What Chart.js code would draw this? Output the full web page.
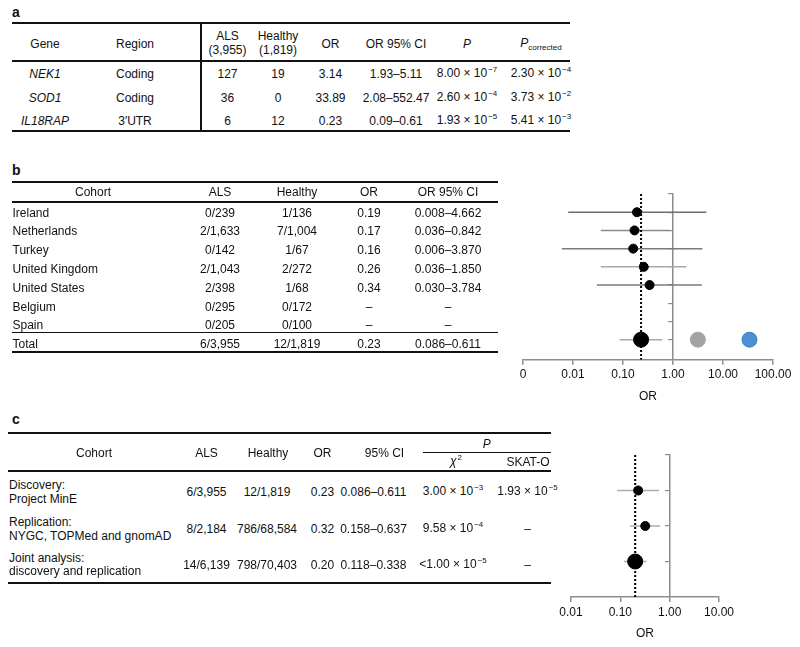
<!DOCTYPE html>
<html>
<head>
<meta charset="utf-8">
<script src="https://cdn.jsdelivr.net/npm/chart.js@4.4.1/dist/chart.umd.min.js"></script>
<style>
  html, body { margin:0; padding:0; background:#fff; }
  #root { position:relative; width:800px; height:647px; overflow:hidden; background:#fff; }
  .t { position:absolute; white-space:nowrap; font:12px "Liberation Sans", Arial, sans-serif; line-height:14px; color:#111; }
  .lbl { font-weight:bold; font-size:14px; }
  .sup { font-size:8px; position:relative; top:-5px; margin-left:1px; }
  .sub { font-size:8px; position:relative; top:3px; }
  .ln { position:absolute; background:#111; }
  canvas { position:absolute; }
</style>
</head>
<body>
<div id="root">
  <canvas id="chartB" width="320" height="228" style="left:480px;top:180px;width:320px;height:228px;"></canvas>
  <canvas id="chartC" width="270" height="207" style="left:530px;top:440px;width:270px;height:207px;"></canvas>
</div>
<script>
// ---------------- DATA ----------------
// Panel a
const genesA = ['NEK1', 'SOD1', 'IL18RAP'];
const regionsA = ['Coding', 'Coding', '3′UTR'];
const alsA = [127, 36, 6];
const healthyA = [19, 0, 12];
const orA = [3.14, 33.89, 0.23];
const ciA = ['1.93–5.11', '2.08–552.47', '0.09–0.61'];
const pA = [[8.00, -7], [2.60, -4], [1.93, -5]];
const pCorrA = [[2.30, -4], [3.73, -2], [5.41, -3]];

// Panel b
const cohortsB = ['Ireland', 'Netherlands', 'Turkey', 'United Kingdom', 'United States', 'Belgium', 'Spain', 'Total'];
const alsB = ['0/239', '2/1,633', '0/142', '2/1,043', '2/398', '0/295', '0/205', '6/3,955'];
const healthyB = ['1/136', '7/1,004', '1/67', '2/272', '1/68', '0/172', '0/100', '12/1,819'];
const orB = [0.19, 0.17, 0.16, 0.26, 0.34, null, null, 0.23];
const ciLowB = [0.008, 0.036, 0.006, 0.036, 0.030, null, null, 0.086];
const ciHighB = [4.662, 0.842, 3.870, 1.850, 3.784, null, null, 0.611];
const xTicksB = [0.001, 0.01, 0.1, 1, 10, 100];

// Panel c
const cohortsC = [['Discovery:', 'Project MinE'], ['Replication:', 'NYGC, TOPMed and gnomAD'], ['Joint analysis:', 'discovery and replication']];
const alsC = ['6/3,955', '8/2,184', '14/6,139'];
const healthyC = ['12/1,819', '786/68,584', '798/70,403'];
const orC = [0.23, 0.32, 0.20];
const ciLowC = [0.086, 0.158, 0.118];
const ciHighC = [0.611, 0.637, 0.338];
const chiC = [[3.00, -3, ''], [9.58, -4, ''], [1.00, -5, '<']];
const skatC = [[1.93, -5, ''], null, null];
const xTicksC = [0.01, 0.1, 1, 10];

// ---------------- HELPERS ----------------
const root = document.getElementById('root');
function txt(html, x, y, align, cls) {
  const d = document.createElement('div');
  d.className = 't' + (cls ? ' ' + cls : '');
  d.innerHTML = html;
  d.style.left = x + 'px';
  d.style.top = y + 'px';
  const a = align || 'center';
  d.style.transform = a === 'center' ? 'translate(-50%,-50%)' : (a === 'left' ? 'translate(0,-50%)' : 'translate(-100%,-50%)');
  root.appendChild(d);
}
function hline(x1, x2, y, w) {
  const d = document.createElement('div');
  d.className = 'ln';
  d.style.left = x1 + 'px'; d.style.width = (x2 - x1) + 'px';
  d.style.top = (y - w / 2) + 'px'; d.style.height = w + 'px';
  root.appendChild(d);
}
function vline(x, y1, y2, w) {
  const d = document.createElement('div');
  d.className = 'ln';
  d.style.left = (x - w / 2) + 'px'; d.style.width = w + 'px';
  d.style.top = y1 + 'px'; d.style.height = (y2 - y1) + 'px';
  root.appendChild(d);
}
function sci(v) {
  if (!v) return '–';
  return (v[2] || '') + v[0].toFixed(2) + ' × 10<span class="sup">−' + (-v[1]) + '</span>';
}
const dash = '–';
const fam = '"Liberation Sans", Arial, sans-serif';

// ---------------- TABLE A ----------------
txt('a', 12, 12, 'left', 'lbl');
hline(12, 570, 23.3, 2);
hline(12, 570, 61, 2);
hline(12, 570, 131, 2);
vline(201, 22.3, 132, 2);
const colA = { gene: 45, region: 135, als: 227.5, healthy: 278, or: 330.5, ci: 396, p: 467, pc: 541 };
txt('Gene', colA.gene, 43.5);
txt('Region', colA.region, 43.5);
txt('ALS', colA.als, 36); txt('(3,955)', colA.als, 50);
txt('Healthy', colA.healthy, 36); txt('(1,819)', colA.healthy, 50);
txt('OR', colA.or, 43.5);
txt('OR 95% CI', colA.ci, 43.5);
txt('<i>P</i>', colA.p, 43.5);
txt('<i>P</i><span class="sub">corrected</span>', colA.pc, 43.5);
const rowYA = [74, 97.5, 121];
genesA.forEach((g, i) => {
  const y = rowYA[i];
  txt('<i>' + g + '</i>', colA.gene, y);
  txt(regionsA[i], colA.region, y);
  txt(String(alsA[i]), colA.als, y);
  txt(String(healthyA[i]), colA.healthy, y);
  txt(orA[i].toFixed(2), colA.or, y);
  txt(ciA[i], colA.ci, y);
  txt(sci(pA[i]), colA.p, y);
  txt(sci(pCorrA[i]), colA.pc, y);
});

// ---------------- TABLE B ----------------
txt('b', 12, 170, 'left', 'lbl');
hline(12, 498, 182.3, 2);
hline(12, 498, 201.7, 2);
hline(12, 498, 332.7, 1.5);
hline(12, 498, 351.7, 2);
const colB = { cohort: 93, als: 220, healthy: 297, or: 369, ci: 448 };
txt('Cohort', colB.cohort, 192.3);
txt('ALS', colB.als, 192.3);
txt('Healthy', colB.healthy, 192.3);
txt('OR', colB.or, 192.3);
txt('OR 95% CI', colB.ci, 192.3);
const rowYB = [212.5, 231.3, 250.1, 268.9, 287.7, 306.5, 325.3, 343.5];
cohortsB.forEach((c, i) => {
  const y = rowYB[i];
  txt(c, 12.5, y, 'left');
  txt(alsB[i], colB.als, y);
  txt(healthyB[i], colB.healthy, y);
  txt(orB[i] == null ? dash : orB[i].toFixed(2), colB.or, y);
  txt(ciLowB[i] == null ? dash : ciLowB[i].toFixed(3) + '–' + ciHighB[i].toFixed(3), colB.ci, y);
});

// ---------------- TABLE C ----------------
txt('c', 12, 419.3, 'left', 'lbl');
hline(8, 551, 433.3, 2);
hline(423, 551, 452.7, 1.2);
hline(8, 551, 471, 2);
hline(8, 551, 583, 2);
const colC = { cohort: 94, als: 206.5, healthy: 267, or: 322.5, ci: 373.5, chi: 453, skat: 527.5 };
txt('Cohort', colC.cohort, 453.3);
txt('ALS', colC.als, 453.3);
txt('Healthy', 268, 453.3);
txt('OR', colC.or, 453.3);
txt('95% CI', 384.5, 453.3);
txt('<i>P</i>', 486.7, 444.3);
txt('<i>χ</i><span class="sup">2</span>', 456, 462);
txt('SKAT-O', 528, 462);
const rowYC = [492, 529, 564.5];
cohortsC.forEach((c, i) => {
  const y = rowYC[i];
  txt(c[0], 9, y - 6.7, 'left');
  txt(c[1], 9, y + 6.7, 'left');
  txt(alsC[i], colC.als, y);
  txt(healthyC[i], colC.healthy, y);
  txt(orC[i].toFixed(2), colC.or, y);
  txt(ciLowC[i].toFixed(3) + '–' + ciHighC[i].toFixed(3), colC.ci, y);
  txt(sci(chiC[i]), colC.chi, y);
  txt(sci(skatC[i]), colC.skat, y);
});

// ---------------- FOREST PLOTS ----------------
const axisGray = '#8c8c8c';
function forest(canvasId, cfg) {
  const datasets = [];
  // points on top
  datasets.push({
    data: cfg.points.map(p => ({ x: p.x, y: p.y })),
    pointRadius: cfg.points.map(p => p.r),
    pointHoverRadius: cfg.points.map(p => p.r),
    pointBackgroundColor: cfg.points.map(p => p.c),
    pointBorderColor: cfg.points.map(p => p.bc || p.c),
    pointBorderWidth: 1,
    showLine: false,
    order: 0
  });
  // dotted reference line
  datasets.push({
    data: [{ x: cfg.ref, y: cfg.yMin }, { x: cfg.ref, y: cfg.yMax }],
    showLine: true, borderColor: '#000', borderWidth: 2, borderDash: [2, 2],
    pointRadius: 0, order: 1
  });
  // CI lines
  cfg.cis.forEach(ci => {
    datasets.push({
      data: [{ x: ci.lo, y: ci.y }, { x: ci.hi, y: ci.y }],
      showLine: true, borderColor: ci.c, borderWidth: 1.5,
      pointRadius: 0, order: 2
    });
  });
  return new Chart(document.getElementById(canvasId), {
    type: 'scatter',
    data: { datasets },
    options: {
      responsive: false, animation: false, devicePixelRatio: 1,
      layout: { padding: cfg.padding },
      plugins: { legend: { display: false }, tooltip: { enabled: false } },
      scales: {
        x: {
          type: 'logarithmic', min: cfg.xTicks[0], max: cfg.xTicks[cfg.xTicks.length - 1], position: 'bottom',
          afterBuildTicks: s => { s.ticks = cfg.xTicks.map(v => ({ value: v })); },
          ticks: {
            autoSkip: false, maxRotation: 0, minRotation: 0, color: '#111', padding: 3,
            font: { family: fam, size: 12 },
            callback: v => (cfg.zeroLabel && v === cfg.xTicks[0]) ? '0' : Number(v).toFixed(2)
          },
          grid: { drawOnChartArea: false, drawTicks: true, tickLength: 5, color: axisGray, lineWidth: 1.5 },
          border: { display: true, color: axisGray, width: 1.5 },
          title: { display: true, text: 'OR', color: '#111', font: { family: fam, size: 12 }, padding: { top: 4, bottom: 4 } }
        },
        y: {
          type: 'linear', min: cfg.yMin, max: cfg.yMax, reverse: true, position: { x: 1 },
          afterBuildTicks: s => { s.ticks = cfg.yTicks.map(v => ({ value: v })); },
          ticks: { display: false },
          grid: { drawOnChartArea: false, drawTicks: true, tickLength: 4, color: axisGray, lineWidth: 1.2 },
          border: { display: true, color: axisGray, width: 1.5 }
        }
      }
    }
  });
}

// Panel b forest
const ciColorsB = ['#6f6f6f', '#8a8a8a', '#7a7a7a', '#a9a9a9', '#7a7a7a', null, null, '#a9a9a9'];
const pointsB = [];
const cisB = [];
cohortsB.forEach((c, i) => {
  if (orB[i] == null) return;
  pointsB.push({ x: orB[i], y: i, r: i === cohortsB.length - 1 ? 7.5 : 4.5, c: '#000' });
  cisB.push({ lo: ciLowB[i], hi: ciHighB[i], y: i, c: ciColorsB[i] });
});
pointsB.push({ x: orA[0], y: cohortsB.length - 1, r: 7.5, c: '#a3a3a3' });
pointsB.push({ x: orA[1], y: cohortsB.length - 1, r: 7.5, c: '#4c8fd3', bc: '#3f7fc4' });
forest('chartB', {
  points: pointsB, cis: cisB, ref: orB[7],
  yMin: -1, yMax: 8.1, yTicks: [-1, 0, 1, 2, 3, 4, 5, 6, 7],
  xTicks: xTicksB, zeroLabel: true,
  padding: { left: 43, right: 27, top: 14, bottom: 0.5 }
});

// Panel c forest
const pointsC = [];
const cisC = [];
orC.forEach((v, i) => {
  pointsC.push({ x: v, y: i, r: i === orC.length - 1 ? 7.5 : 4.5, c: '#000' });
  cisC.push({ lo: ciLowC[i], hi: ciHighC[i], y: i, c: '#adadad' });
});
forest('chartC', {
  points: pointsC, cis: cisC, ref: orC[2],
  yMin: -1, yMax: 3, yTicks: [-1, 0, 1, 2],
  xTicks: xTicksC, zeroLabel: false,
  padding: { left: 41, right: 81, top: 15, bottom: 2.2 }
});
</script>
</body>
</html>
